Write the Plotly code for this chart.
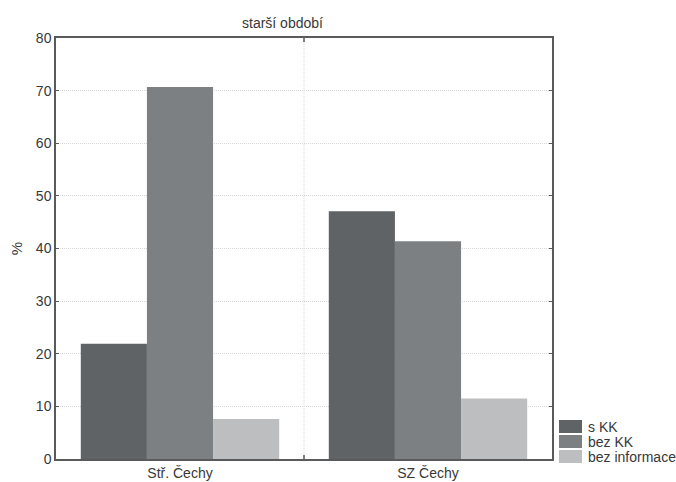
import plotly.graph_objects as go

categories = ["Stř. Čechy", "SZ Čechy"]
series_names = ["s KK", "bez KK", "bez informace"]
s_kk = [21.9, 47.1]
bez_kk = [70.7, 41.4]
bez_info = [7.6, 11.5]
colors = ["#5f6366", "#7d8083", "#bdbec0"]
y_ticks = [0, 10, 20, 30, 40, 50, 60, 70, 80]

W, H = 676, 482
L, R, T, B = 56, 124, 38, 23
pw, ph = W - L - R, H - T - B

fig = go.Figure()
for name, vals, col in zip(series_names, [s_kk, bez_kk, bez_info], colors):
    fig.add_trace(go.Bar(x=categories, y=vals, name=name, showlegend=False,
                         marker=dict(color=col, line=dict(width=0))))

font_family = "Liberation Sans, Arial, sans-serif"
txt = "#383838"
axc = "#5a5a5a"
gridc = "#d6d6d6"
fig.update_layout(
    width=W, height=H,
    margin=dict(l=L, r=R, t=T, b=B, autoexpand=False),
    paper_bgcolor="white", plot_bgcolor="white",
    barmode="group", bargap=0.2, bargroupgap=0,
    font=dict(family=font_family, size=14, color=txt),
    showlegend=False,
    xaxis=dict(showgrid=False, showline=True, linecolor=axc, linewidth=1.5, mirror=True,
               ticks="", tickfont=dict(size=14), automargin=False),
    yaxis=dict(range=[0, 80], tickvals=y_ticks, showgrid=True, gridcolor=gridc,
               griddash="1px,1px", gridwidth=1, showline=True, linecolor=axc, linewidth=1.5,
               mirror="ticks", ticks="inside", ticklen=3, tickcolor=axc,
               zeroline=False, tickfont=dict(size=14), automargin=False,
               title=dict(text="%", font=dict(size=15), standoff=10)),
)
# category boundary dotted line
fig.add_shape(type="line", xref="x", yref="paper", x0=0.5, x1=0.5, y0=0, y1=1,
              line=dict(color=gridc, width=1, dash="1px,1px"), layer="below")
# small ticks at category boundary (bottom and top)
fig.add_shape(type="line", xref="x", yref="paper", x0=0.5, x1=0.5, y0=0, y1=4 / ph,
              line=dict(color=axc, width=1.5))
fig.add_shape(type="line", xref="x", yref="paper", x0=0.5, x1=0.5, y0=1 - 4 / ph, y1=1,
              line=dict(color=axc, width=1.5))
# title
fig.add_annotation(text="starší období", xref="paper", yref="paper",
                   x=(282 - L) / pw, y=1.0, yshift=15, showarrow=False,
                   font=dict(size=14, color=txt), xanchor="center", yanchor="middle")

# custom legend (swatches + labels)
row_tops = [420, 435, 450]
for name, col, top in zip(series_names, colors, row_tops):
    y0 = (H - B - (top + 13)) / ph
    y1 = (H - B - top) / ph
    fig.add_shape(type="rect", xref="paper", yref="paper",
                  x0=(559 - L) / pw, x1=(582 - L) / pw, y0=y0, y1=y1,
                  line=dict(width=0), fillcolor=col)
    fig.add_annotation(text=name, xref="paper", yref="paper",
                       x=(586 - L) / pw, y=(y0 + y1) / 2, showarrow=False,
                       xanchor="left", yanchor="middle",
                       font=dict(size=14, color=txt))

fig.write_html("out.html", config={"displayModeBar": False},
               post_script="document.documentElement.style.margin='0';"
                           "document.body.style.margin='0';"
                           "document.body.style.padding='0';"
                           "document.body.style.overflow='hidden';")
